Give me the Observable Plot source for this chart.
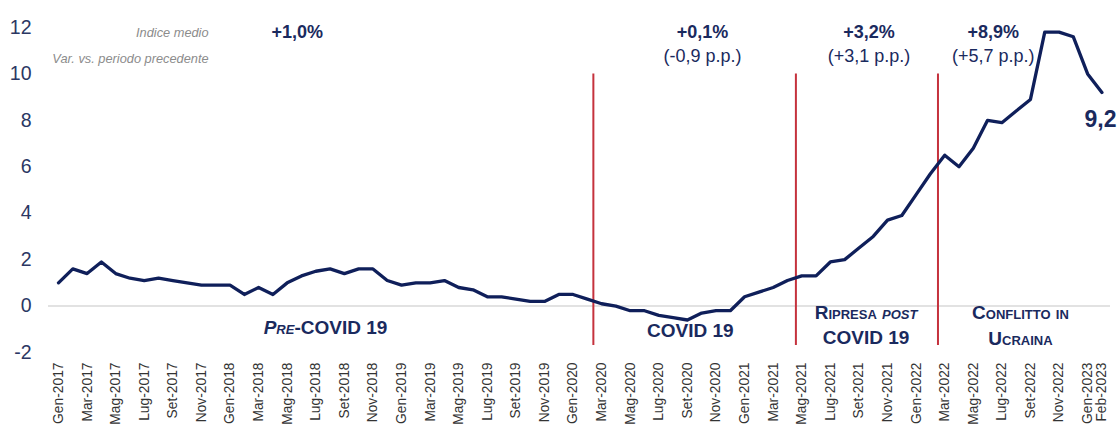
<!DOCTYPE html>
<html>
<head>
<meta charset="utf-8">
<script src="https://cdn.jsdelivr.net/npm/d3@7"></script>
<script src="https://cdn.jsdelivr.net/npm/@observablehq/plot@0.6"></script>
<style>
  html, body { margin: 0; padding: 0; background: #fff; }
  #chart { width: 1117px; height: 426px; overflow: hidden; }
</style>
</head>
<body>
<div id="chart"></div>
<script>
const months = [
  "Gen-2017","Feb-2017","Mar-2017","Apr-2017","Mag-2017","Giu-2017","Lug-2017","Ago-2017","Set-2017","Ott-2017","Nov-2017","Dic-2017",
  "Gen-2018","Feb-2018","Mar-2018","Apr-2018","Mag-2018","Giu-2018","Lug-2018","Ago-2018","Set-2018","Ott-2018","Nov-2018","Dic-2018",
  "Gen-2019","Feb-2019","Mar-2019","Apr-2019","Mag-2019","Giu-2019","Lug-2019","Ago-2019","Set-2019","Ott-2019","Nov-2019","Dic-2019",
  "Gen-2020","Feb-2020","Mar-2020","Apr-2020","Mag-2020","Giu-2020","Lug-2020","Ago-2020","Set-2020","Ott-2020","Nov-2020","Dic-2020",
  "Gen-2021","Feb-2021","Mar-2021","Apr-2021","Mag-2021","Giu-2021","Lug-2021","Ago-2021","Set-2021","Ott-2021","Nov-2021","Dic-2021",
  "Gen-2022","Feb-2022","Mar-2022","Apr-2022","Mag-2022","Giu-2022","Lug-2022","Ago-2022","Set-2022","Ott-2022","Nov-2022","Dic-2022",
  "Gen-2023","Feb-2023"
];
const values = [
  1.0, 1.6, 1.4, 1.9, 1.4, 1.2, 1.1, 1.2, 1.1, 1.0, 0.9, 0.9,
  0.9, 0.5, 0.8, 0.5, 1.0, 1.3, 1.5, 1.6, 1.4, 1.6, 1.6, 1.1,
  0.9, 1.0, 1.0, 1.1, 0.8, 0.7, 0.4, 0.4, 0.3, 0.2, 0.2, 0.5,
  0.5, 0.3, 0.1, 0.0, -0.2, -0.2, -0.4, -0.5, -0.6, -0.3, -0.2, -0.2,
  0.4, 0.6, 0.8, 1.1, 1.3, 1.3, 1.9, 2.0, 2.5, 3.0, 3.7, 3.9,
  4.8, 5.7, 6.5, 6.0, 6.8, 8.0, 7.9, 8.4, 8.9, 11.8, 11.8, 11.6,
  10.0, 9.2
];
const tickLabels = [
  "Gen-2017","Mar-2017","Mag-2017","Lug-2017","Set-2017","Nov-2017",
  "Gen-2018","Mar-2018","Mag-2018","Lug-2018","Set-2018","Nov-2018",
  "Gen-2019","Mar-2019","Mag-2019","Lug-2019","Set-2019","Nov-2019",
  "Gen-2020","Mar-2020","Mag-2020","Lug-2020","Set-2020","Nov-2020",
  "Gen-2021","Mar-2021","Mag-2021","Lug-2021","Set-2021","Nov-2021",
  "Gen-2022","Mar-2022","Mag-2022","Lug-2022","Set-2022","Nov-2022",
  "Gen-2023","Feb-2023"
];
const yTicks = [-2, 0, 2, 4, 6, 8, 10, 12];
// period dividers (fractional month index)
const dividers = [37.42, 51.59, 61.53];
const periodAvg = ["+1,0%", "+0,1%", "+3,2%", "+8,9%"];
const periodDelta = ["", "(-0,9 p.p.)", "(+3,1 p.p.)", "(+5,7 p.p.)"];
const lastLabel = "9,2";

const data = values.map((v, i) => ({i, month: months[i], v}));
const tickIdx = tickLabels.map(l => months.indexOf(l));

const FONT = "'Liberation Sans Narrow', 'Arial Narrow', 'Liberation Sans', Arial, sans-serif";
const NAVY = "#0f1f5a";
const TXT = "#1a2a5e";

const avgPos = [16.7, 45.06, 56.7, 65.4];

const chart = Plot.plot({
  width: 1117,
  height: 426,
  marginLeft: 48,
  marginRight: 7,
  marginTop: 27,
  marginBottom: 74,
  style: {fontFamily: FONT, background: "#fff", overflow: "visible"},
  x: {domain: [-0.7, 73.6]},
  y: {domain: [-2, 12]},
  marks: [
    Plot.ruleY([0], {stroke: "#d9d9d9", strokeWidth: 1.5}),
    Plot.ruleX(dividers, {y1: -1.7, y2: 10, stroke: "#c5323d", strokeWidth: 2}),
    Plot.line(data, {x: "i", y: "v", stroke: NAVY, strokeWidth: 3.3}),
    Plot.axisY({ticks: yTicks, tickFormat: d => String(d), tickSize: 0, tickPadding: 17, fontSize: 19.5, label: null, fill: "#2b3763"}),
    Plot.axisX({ticks: tickIdx, tickFormat: i => months[i], tickRotate: -90, tickSize: 0, tickPadding: 10, fontSize: 13.8, label: null, fill: "#333333"}),
    // header texts
    Plot.text(["Indice medio"], {x: 10.5, y: 11.75, text: d => d, textAnchor: "end", fontStyle: "italic", fill: "#8c8c8c", fontSize: 12.8}),
    Plot.text(["Var. vs. periodo precedente"], {x: 10.5, y: 10.63, text: d => d, textAnchor: "end", fontStyle: "italic", fill: "#8c8c8c", fontSize: 12.8}),
    Plot.text(periodAvg, {x: (d, i) => avgPos[i], y: 11.8, text: d => d, fontWeight: "bold", fill: TXT, fontSize: 18}),
    Plot.text(periodDelta, {x: (d, i) => avgPos[i], y: 10.78, text: d => d, fill: TXT, fontSize: 18}),
    Plot.text([lastLabel], {x: 72.9, y: 8.04, text: d => d, fontWeight: "bold", fill: TXT, fontSize: 23}),
    // period names
    Plot.text(["Pre-COVID 19"], {x: 18.68, y: -0.92, text: d => d, fontWeight: "bold", fill: TXT, fontSize: 19, fontVariant: "small-caps"}),
    Plot.text(["COVID 19"], {x: 44.2, y: -1.05, text: d => d, fontWeight: "bold", fill: TXT, fontSize: 19}),
    Plot.text(["Ripresa post", "COVID 19"], {x: 56.5, y: (d, i) => i === 0 ? -0.28 : -1.35, text: d => d, fontWeight: "bold", fill: TXT, fontSize: 19, fontVariant: "small-caps"}),
    Plot.text(["Conflitto in", "Ucraina"], {x: 67.3, y: (d, i) => i === 0 ? -0.28 : -1.4, text: d => d, fontWeight: "bold", fill: TXT, fontSize: 19, fontVariant: "small-caps"})
  ]
});

// italic parts inside period names
chart.querySelectorAll("text").forEach(t => {
  if (t.textContent === "Pre-COVID 19") {
    t.innerHTML = '<tspan font-style="italic">Pre</tspan>-COVID 19';
  } else if (t.textContent === "Ripresa post") {
    t.innerHTML = 'Ripresa <tspan font-style="italic">post</tspan>';
  }
});

document.getElementById("chart").appendChild(chart);
</script>
</body>
</html>
